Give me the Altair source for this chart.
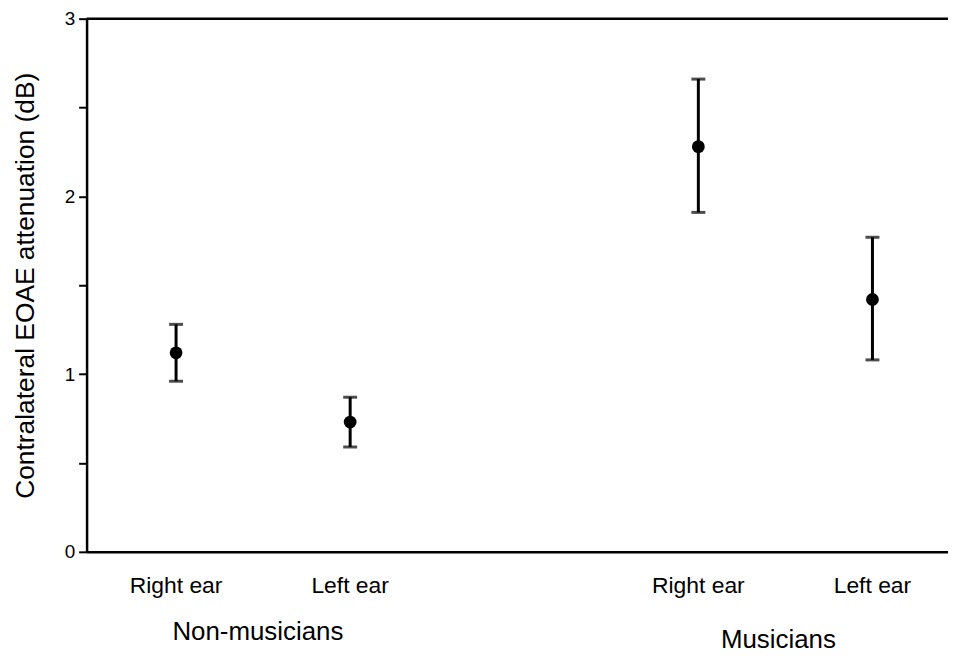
import altair as alt
import pandas as pd

# data
positions = [1, 2, 4, 5]
ear_labels = ["Right ear", "Left ear", "Right ear", "Left ear"]
means = [1.12, 0.73, 2.28, 1.42]
lower = [0.96, 0.59, 1.91, 1.08]
upper = [1.28, 0.87, 2.66, 1.77]

group_names = ["Non-musicians", "Musicians"]
group_pos = [1.47, 4.46]
group_ypix = [625, 633]

y_ticks = [0, 0.5, 1, 1.5, 2, 2.5, 3]

df = pd.DataFrame({"p": positions, "ear": ear_labels, "m": means, "lo": lower, "hi": upper})
gdf = pd.DataFrame({"p": group_pos, "g": group_names, "ypix": group_ypix})

FONT = "Liberation Sans"
W, H = 866, 536

xs = alt.Scale(domain=[0.486, 5.434], nice=False, zero=False)
ys = alt.Scale(domain=[0, 3], nice=False, zero=True)

base = alt.Chart(df)

x_enc = alt.X("p:Q", scale=xs,
              axis=alt.Axis(title=None, labels=False, ticks=False, grid=False,
                            domain=True, domainColor="black", domainWidth=2.5))

rules = base.mark_rule(color="black", strokeWidth=3).encode(
    x=x_enc,
    y=alt.Y("lo:Q", scale=ys,
            axis=alt.Axis(title="Contralateral EOAE attenuation (dB)", values=y_ticks,
                          labelExpr="datum.value % 1 == 0 ? format(datum.value, 'd') : ''",
                          grid=False, tickSize=8, tickWidth=2, tickColor="black",
                          domainColor="black", domainWidth=2.5,
                          labelFont=FONT, labelFontSize=19, labelColor="black", labelPadding=4,
                          titleFont=FONT, titleFontSize=26.5, titleFontWeight="normal",
                          titleColor="black", titlePadding=25)),
    y2="hi:Q",
)

cap_lo = base.mark_tick(color="black", orient="horizontal", size=14, thickness=3).encode(
    x=alt.X("p:Q", scale=xs), y=alt.Y("lo:Q", scale=ys))
cap_hi = base.mark_tick(color="black", orient="horizontal", size=14, thickness=3).encode(
    x=alt.X("p:Q", scale=xs), y=alt.Y("hi:Q", scale=ys))

pts = base.mark_point(filled=True, shape="circle", color="black", opacity=1, size=165).encode(
    x=alt.X("p:Q", scale=xs), y=alt.Y("m:Q", scale=ys))

top = alt.Chart(pd.DataFrame({"v": [3]})).mark_rule(color="black", strokeWidth=2.5).encode(
    y=alt.Y("v:Q", scale=ys))

ear_text = base.mark_text(font=FONT, fontSize=23, color="black", baseline="alphabetic",
                          align="center").encode(
    x=alt.X("p:Q", scale=xs), y=alt.value(577), text="ear:N")

grp_text = alt.Chart(gdf).mark_text(font=FONT, fontSize=26, color="black",
                                    baseline="alphabetic", align="center").encode(
    x=alt.X("p:Q", scale=xs), y=alt.Y("ypix:Q", scale=None), text="g:N")

chart = alt.layer(rules, cap_lo, cap_hi, pts, top, ear_text, grp_text).properties(
    width=W, height=H,
    autosize=alt.AutoSizeParams(type="none"),
    padding={"left": 79, "top": 9, "right": 0, "bottom": 106},
).configure_view(stroke=None).configure(background="white")

chart.save("out.html", embed_options={"renderer": "svg", "actions": False})
